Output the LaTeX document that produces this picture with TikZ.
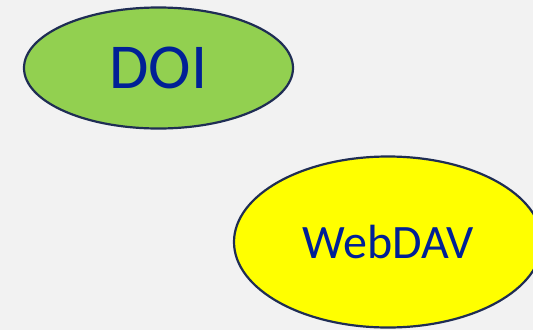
\documentclass[tikz,border=0pt]{standalone}
\usepackage{fontspec}
\setmainfont{Carlito}
\usetikzlibrary{shapes.geometric}
\definecolor{bgpanel}{RGB}{242,242,242}
\definecolor{leafgreen}{RGB}{146,208,80}
\definecolor{brightyellow}{RGB}{255,255,0}
\definecolor{edgenavy}{RGB}{31,45,84}
\definecolor{labelblue}{RGB}{0,32,150}
\tikzset{
  bubble/.style={ellipse, draw=edgenavy, line width=2.2pt, inner sep=0pt,
                 text=labelblue, font=\fontsize{#1}{#1}\selectfont},
}
\begin{document}
\begin{tikzpicture}[x=1pt, y=-1pt]
  \clip (0,0) rectangle (533,330);
  \fill[bgpanel] (0,0) rectangle (533,330);
  \node[bubble=64, fill=leafgreen, minimum width=269pt, minimum height=121pt]
    (doi) at (158.5,68) {DOI};
  \node[bubble=48, fill=brightyellow, minimum width=308pt, minimum height=171pt]
    (webdav) at (388,242) {WebDAV};
\end{tikzpicture}
\end{document}
